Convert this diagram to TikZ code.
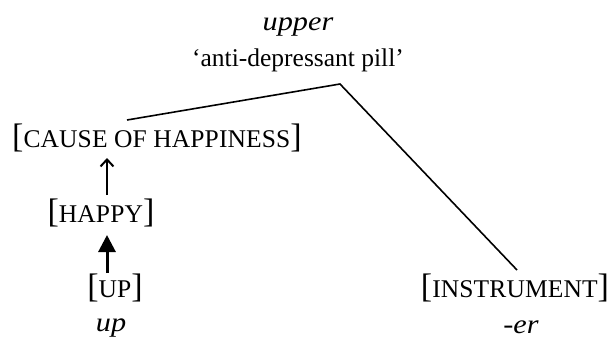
\documentclass[tikz,border=0pt]{standalone}
\usepackage{fontspec}
\setmainfont{Liberation Serif}
\usetikzlibrary{arrows.meta}
\newcommand\lbr{{\fontsize{34}{34}\selectfont[}}
\newcommand\rbr{{\fontsize{34}{34}\selectfont]}}
\newcommand\semcap[1]{\lbr{\fontsize{25.5}{30}\selectfont\addfontfeature{LetterSpace=0.5}#1}\rbr}
\newcommand\form[1]{\scalebox{1.12}[1]{\fontsize{27}{30}\selectfont\itshape #1}}
\begin{document}
\begin{tikzpicture}[x=1pt,y=-1pt,
  txt/.style={inner sep=0pt, font=\fontsize{24}{28}\selectfont, anchor=base},
  branch/.style={line width=1.6pt},
  thinarrow/.style={line width=2.2pt, -{Straight Barb[length=7pt,width=13pt,line width=2pt]}},
  thickarrow/.style={line width=3pt, -{Triangle[length=17pt,width=17pt]}}]
\useasboundingbox (0,0) rectangle (610,338);
\node[txt] (upper) at (298,30) {\form{upper}};
\node[txt, font=\fontsize{25.5}{29}\selectfont] (gloss) at (298,66) {‘anti-depressant pill’};
\node[txt] (cause) at (157,147) {\semcap{CAUSE OF HAPPINESS}};
\node[txt] (happy) at (101,222) {\semcap{HAPPY}};
\node[txt] (up) at (115,297) {\semcap{UP}};
\node[txt] (upw) at (111,331) {\form{up}};
\node[txt] (instr) at (515,297) {\semcap{INSTRUMENT}};
\node[txt] (er) at (521,333) {\form{-er}};
\coordinate (apex) at (340,84);
\coordinate (cl) at (127,120);
\coordinate (il) at (517,270);
\coordinate (ax) at (107,0);
\draw[branch] (cl) -- (apex) -- (il);
\draw[thinarrow] (happy.north -| ax) ++(0,-3) -- (107,158);
\draw[thickarrow] (up.north -| ax) -- (107,235);
\end{tikzpicture}
\end{document}
